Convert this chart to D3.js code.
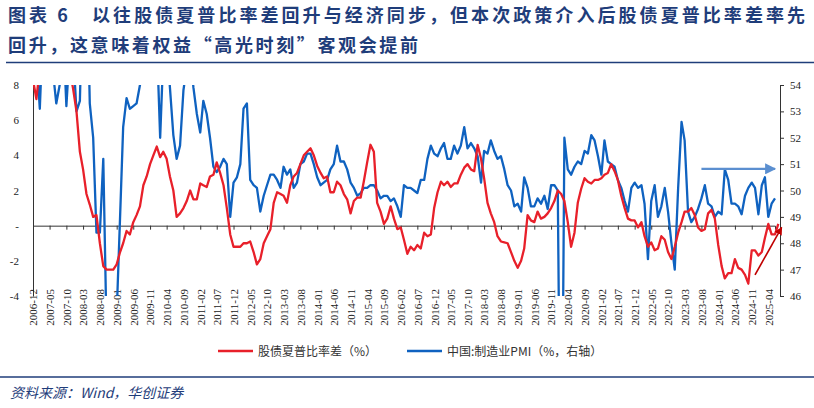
<!DOCTYPE html>
<html><head><meta charset="utf-8">
<script src="https://cdn.jsdelivr.net/npm/d3@7"></script>
<style>body{margin:0;background:#fff}svg{display:block}</style>
</head><body><svg id="c" width="814" height="408"></svg>
<script>
const startMonth = "2006-12";
const tickLabels = ["2006-12","2007-05","2007-10","2008-03","2008-08","2009-01","2009-06","2009-11","2010-04","2010-09","2011-02","2011-07","2011-12","2012-05","2012-10","2013-03","2013-08","2014-01","2014-06","2014-11","2015-04","2015-09","2016-02","2016-07","2016-12","2017-05","2017-10","2018-03","2018-08","2019-01","2019-06","2019-11","2020-04","2020-09","2021-02","2021-07","2021-12","2022-05","2022-10","2023-03","2023-08","2024-01","2024-06","2024-11","2025-04"];
const sharpeDiff = [8.3,7.2,9,9.5,10,10.5,10,9.5,9,9.5,9,8.8,7.8,6.5,4.2,3.2,1.8,1.2,0.5,0.6,-1,-2.3,-2.5,-2.5,-2.5,-2.2,-1.5,-1.0,-0.3,-0.5,0.2,0.6,1.1,2.3,2.8,3.5,4.0,4.5,3.9,4.2,3.8,2.8,2.0,0.5,0.7,1.0,1.4,2.0,1.5,1.5,2.4,2.3,2.2,2.8,2.9,3.6,3.0,2.3,1.0,-0.5,-1.2,-1.2,-1.2,-1.0,-1.0,-0.9,-1.5,-2.2,-1.9,-1.0,-0.6,-0.2,1.3,1.9,1.8,1.7,1.3,2.3,2.8,3.0,3.5,4.0,4.2,4.4,4.0,3.4,3.0,2.7,2.8,1.9,1.9,2.5,2.3,1.8,1.5,0.7,1.4,1.6,1.6,2.5,3.6,4.6,4.2,1.3,0.8,0.1,0.4,1.1,0.4,-0.2,-0.1,-0.8,-1.6,-1.2,-1.4,-1.1,-1.3,-0.4,-0.6,-0.5,1.0,1.9,2.5,2.3,2.5,2.2,2.4,2.4,2.9,3.3,3.5,3.2,3.1,4.6,3.8,2.7,1.3,0.7,0.2,-0.6,-0.9,-0.95,-1.0,-1.5,-2.0,-2.4,-2.0,-1.3,0.6,0.3,0.2,0.8,0.4,0.5,0.7,1.0,1.4,2.0,1.8,1.4,0.2,-1.2,-0.4,1.3,2.1,2.7,2.5,2.4,2.6,2.6,2.7,2.9,3.0,3.5,3.1,2.6,1.7,1.0,0.4,0.3,0.3,-0.1,0.2,-0.6,-1.2,-0.95,-1.4,-1.3,-0.6,-0.8,-1.5,-1.9,-1.2,-0.4,0.2,0.8,0.8,1.0,0.6,-0.1,-0.3,-0.2,0.7,0.9,0.4,-1.1,-2.3,-3.0,-2.7,-2.7,-1.9,-2.4,-2.5,-2.8,-3.3,-1.4,-1.4,-1.7,-1.5,-0.7,0.1,-0.5,-0.5,0.1];
const pmi = [55.3,55.1,53.1,56.1,58.1,55.1,54.5,53.3,54,56.1,53.2,55.4,55.3,53,53.4,58.4,59.2,53.3,52,48.4,48.4,51.2,44.6,38.8,41.2,45.3,49,52.4,53.5,53.1,53.2,53.3,54,54.3,55.2,55.2,56.6,55.8,52,55.1,55.7,53.9,52.1,51.2,51.7,53.8,54.7,55.2,53.9,52.9,52.2,53.4,52.9,52,50.9,50.7,50.9,51.2,51,49,50.3,50.5,51,53.1,53.3,50.4,50.2,50.1,49.2,49.8,50.2,50.6,50.6,50.4,50.1,50.9,50.6,50.8,50.1,50.3,51,51.1,51.4,51.4,51,50.5,50.2,50.3,50.4,50.8,51,51.7,51.1,51.1,50.8,50.3,50.1,49.8,49.9,50.1,50.1,50.2,50.2,50,49.7,49.8,49.8,49.6,49.7,49.4,49,50.2,50.1,50.1,50,49.9,50.4,50.4,51.2,51.7,51.4,51.3,51.6,51.8,51.2,51.2,51.7,51.4,51.7,52.4,51.6,51.8,51.6,51.3,50.3,51.5,51.4,51.9,51.5,51.2,51.3,50.8,50.2,50,49.4,49.5,49.2,50.5,50.1,49.4,49.4,49.7,49.5,49.8,49.3,50.2,50.2,50,35.7,52,50.8,50.6,50.9,51.1,51,51.5,51.4,52.1,51.9,51.3,50.6,51.9,51.1,51,50.9,50.4,50.1,49.6,49.2,50.1,50.3,50.1,50.2,49.5,47.4,49.6,50.2,49,49.4,50.1,49.2,48,47,50.1,52.6,51.9,49.2,48.8,49,49.3,49.7,50.2,49.5,49.4,49,49.2,49.1,50.8,50.4,49.5,49.5,49.4,49.1,49.8,50.1,50.3,50.1,49.1,50.2,50.5,49,49.5,49.7];
const leftTicks=[-4,-2,0,2,4,6,8], rightTicks=[46,47,48,49,50,51,52,53,54];

const svg=d3.select("#c");
const navy="#1f3d7a";
const F="'Noto Sans CJK SC',sans-serif";
const pt=d3.timeParse("%Y-%m");
const d0=pt(startMonth);
const mon=i=>d3.timeMonth.offset(d0,i);
const x=d3.scaleTime().domain([d0,mon(222)]).range([33,775]);
const yL=d3.scaleLinear().domain([-4,8]).range([296,85]);
const yR=d3.scaleLinear().domain([46,54]).range([296,85]);

// title
svg.append("text").attr("x",8).attr("y",22).attr("font-family",F).attr("font-weight","bold").attr("font-size",18).attr("fill",navy)
 .attr("textLength",797).attr("lengthAdjust","spacing")
 .text("图表 6　以往股债夏普比率差回升与经济同步，但本次政策介入后股债夏普比率差率先");
svg.append("text").attr("x",8).attr("y",52).attr("font-family",F).attr("font-weight","bold").attr("font-size",18).attr("fill",navy)
 .attr("textLength",410).attr("lengthAdjust","spacing")
 .text("回升，这意味着权益“高光时刻”客观会提前");
svg.append("line").attr("x1",6).attr("x2",814).attr("y1",62.5).attr("y2",62.5).attr("stroke",navy).attr("stroke-width",1.5);
svg.append("line").attr("x1",0).attr("x2",814).attr("y1",377).attr("y2",377).attr("stroke",navy).attr("stroke-width",1.5);

svg.append("defs").append("clipPath").attr("id","pc").append("rect").attr("x",33).attr("y",85).attr("width",747).attr("height",211);

// axes
const tf="'Times New Roman','Liberation Serif',serif";
const la=svg.append("g").attr("transform","translate(33,0)").call(d3.axisLeft(yL).tickValues(leftTicks).tickSize(0).tickPadding(14).tickFormat(d=>d===0?"-":d));
const ra=svg.append("g").attr("transform","translate(780,0)").call(d3.axisRight(yR).tickValues(rightTicks).tickSize(4).tickPadding(6));
[la,ra].forEach(a=>{a.selectAll("text").attr("font-family",tf).attr("font-size",11).attr("fill","#222");a.selectAll("path,line").attr("stroke","#333");});
const xa=svg.append("g").attr("transform",`translate(0,${yL(0)})`)
 .call(d3.axisBottom(x).tickValues(tickLabels.map(pt)).tickSize(4).tickFormat(d3.timeFormat("%Y-%m")));
xa.select("path").attr("stroke","#333");
xa.selectAll("line").attr("stroke","#333");
xa.selectAll("text").attr("font-family",tf).attr("font-size",11).attr("fill","#222")
 .attr("text-anchor","end").attr("transform",function(){return `translate(0,${298-yL(0)-9}) rotate(-90)`;}).attr("x",-0).attr("y",0).attr("dy","0.35em");

// lines
const g=svg.append("g").attr("clip-path","url(#pc)");
g.append("path").datum(pmi).attr("fill","none").attr("stroke","#0f62c0").attr("stroke-width",2.3).attr("stroke-linejoin","round")
 .attr("d",d3.line().x((d,i)=>x(mon(i))).y(d=>yR(d)));
g.append("path").datum(sharpeDiff).attr("fill","none").attr("stroke","#e8202a").attr("stroke-width",2.3).attr("stroke-linejoin","round")
 .attr("d",d3.line().x((d,i)=>x(mon(i))).y(d=>yL(d)));

// arrows
const defs=svg.select("defs");
[["ab","#5b8fd0"],["ar","#c00000"]].forEach(([id,c])=>{
 defs.append("marker").attr("id",id).attr("viewBox","0 0 10 10").attr("refX",9).attr("refY",5).attr("markerWidth",5).attr("markerHeight",5).attr("orient","auto")
  .append("path").attr("d","M0,0L10,5L0,10z").attr("fill",c);});
svg.append("line").attr("x1",x(mon(200))).attr("x2",x(mon(222))).attr("y1",yR(50.82)).attr("y2",yR(50.82)).attr("stroke","#5b8fd0").attr("stroke-width",2.2).attr("marker-end","url(#ab)");
svg.append("line").attr("x1",x(mon(216))).attr("x2",x(mon(224))).attr("y1",yR(46.8)).attr("y2",yR(48.6)).attr("stroke","#c00000").attr("stroke-width",1.6).attr("marker-end","url(#ar)");

// legend
const lg=[["#e8202a","股债夏普比率差（%）",218],["#0f62c0","中国:制造业PMI（%，右轴）",407]];
lg.forEach(([c,t,lx])=>{
 svg.append("line").attr("x1",lx).attr("x2",lx+35).attr("y1",351).attr("y2",351).attr("stroke",c).attr("stroke-width",2.3);
 svg.append("text").attr("x",lx+40).attr("y",355.5).attr("font-family",F).attr("font-size",12).attr("fill","#333").text(t);
});
svg.append("text").attr("x",10).attr("y",398).attr("font-family",F).attr("font-style","italic").attr("font-size",14).attr("fill",navy).text("资料来源：Wind，华创证券");
</script></body></html>
